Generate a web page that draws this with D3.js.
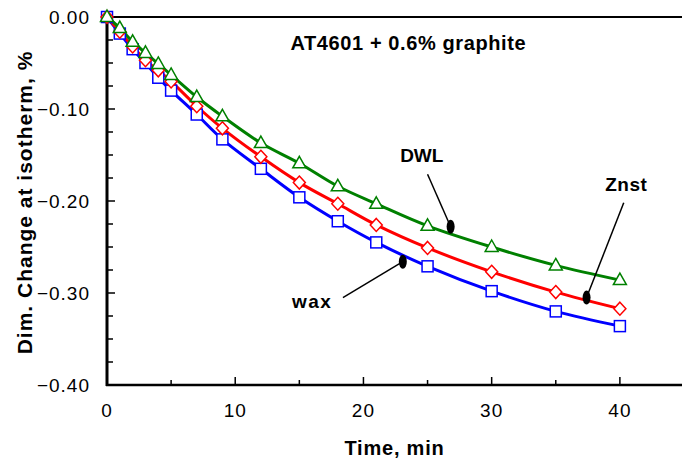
<!DOCTYPE html>
<html><head><meta charset="utf-8">
<script src="https://cdn.jsdelivr.net/npm/d3@7"></script>
<style>body{margin:0;background:#fff}svg{display:block}</style>
</head><body>
<script>
const times = [0,1,2,3,4,5,7,9,12,15,18,21,25,30,35,40];
const waxValues  = [0,-0.018,-0.035,-0.050,-0.066,-0.080,-0.106,-0.133,-0.165,-0.196,-0.222,-0.245,-0.271,-0.298,-0.320,-0.336];
const znstValues = [0,-0.016,-0.032,-0.047,-0.058,-0.070,-0.097,-0.121,-0.152,-0.180,-0.203,-0.226,-0.251,-0.277,-0.299,-0.317];
const dwlValues  = [0,-0.012,-0.027,-0.039,-0.051,-0.063,-0.087,-0.108,-0.137,-0.159,-0.184,-0.203,-0.227,-0.250,-0.270,-0.286];
const seriesNames = ["wax","Znst","DWL"];
const xTicks = [0,10,20,30,40];
const yTicks = [0,-0.1,-0.2,-0.3,-0.4];
const titleText = "AT4601 + 0.6% graphite";
const xLabel = "Time, min";
const yLabel = "Dim. Change at isotherm, %";
// annotations in data units: label position, leader start, dot position
const annotations = [
  {text:"DWL",  tx:24.55, ty:-0.1576, lx:25.0, ly:-0.171, dx:26.8, dy:-0.228, spacing:0},
  {text:"Znst", tx:40.5,  ty:-0.189,  lx:40.3, ly:-0.202, dx:37.4, dy:-0.305, spacing:0.5},
  {text:"wax",  tx:16.0,  ty:-0.316,  lx:18.4, ly:-0.305, dx:23.07,dy:-0.266, spacing:1.5}
];

const W=682,H=460;
const svg=d3.select("body").append("svg").attr("width",W).attr("height",H);
const x=d3.scaleLinear().domain([0,45]).range([107,684]);
const y=d3.scaleLinear().domain([0,-0.4]).range([17,385]);
const font="'Liberation Sans', Arial, sans-serif";

// minor ticks
const g=svg.append("g");
d3.range(5,45,10).forEach(v=>{
  g.append("line").attr("x1",x(v)).attr("x2",x(v)).attr("y1",y(-0.4)).attr("y2",y(-0.4)-5).attr("stroke","#000").attr("stroke-width",1.5);
});
xTicks.forEach(v=>{
  g.append("line").attr("x1",x(v)).attr("x2",x(v)).attr("y1",y(-0.4)).attr("y2",y(-0.4)-8).attr("stroke","#000").attr("stroke-width",1.5);
  g.append("text").attr("x",x(v)).attr("y",417).attr("text-anchor","middle")
   .attr("font-family",font).attr("font-size",19).attr("letter-spacing",1).text(d3.format("d")(v));
});
d3.range(0,16).forEach(i=>{
  const v=-i*0.025;
  const major = i%4===0;
  g.append("line").attr("x1",x(0)).attr("x2",x(0)+(major?8:6)).attr("y1",y(v)).attr("y2",y(v)).attr("stroke","#000").attr("stroke-width",1.5);
});
yTicks.forEach(v=>{
  g.append("text").attr("x",90).attr("y",y(v)+7).attr("text-anchor","end")
   .attr("font-family",font).attr("font-size",19).attr("letter-spacing",1).text(d3.format(".2f")(v));
});

// axes lines
svg.append("line").attr("x1",x(0)).attr("x2",W).attr("y1",y(0)).attr("y2",y(0)).attr("stroke","#000").attr("stroke-width",2);
svg.append("line").attr("x1",x(0)-1).attr("x2",W).attr("y1",y(-0.4)).attr("y2",y(-0.4)).attr("stroke","#000").attr("stroke-width",2.5);
svg.append("line").attr("x1",x(0)).attr("x2",x(0)).attr("y1",y(0)-1).attr("y2",y(-0.4)+1).attr("stroke","#000").attr("stroke-width",3);

// series
const series=[
  {name:seriesNames[0],vals:waxValues,color:"#0000ff",shape:"square"},
  {name:seriesNames[1],vals:znstValues,color:"#ff0000",shape:"diamond"},
  {name:seriesNames[2],vals:dwlValues,color:"#008000",shape:"triangle"}
];
const line=d3.line().x(d=>x(d[0])).y(d=>y(d[1])).curve(d3.curveCatmullRom.alpha(0.5));
series.forEach(s=>{
  const pts=times.map((t,i)=>[t,s.vals[i]]);
  svg.append("path").attr("d",line(pts)).attr("fill","none").attr("stroke",s.color).attr("stroke-width",3);
});
series.forEach(s=>{
  const pts=times.map((t,i)=>[t,s.vals[i]]);
  const mg=svg.append("g");
  pts.forEach(p=>{
    const cx=x(p[0]),cy=y(p[1]);
    let el;
    if(s.shape==="square"){
      el=mg.append("rect").attr("x",cx-5.5).attr("y",cy-5.5).attr("width",11).attr("height",11);
    } else if(s.shape==="diamond"){
      el=mg.append("path").attr("d",`M${cx},${cy-6.5}L${cx+6},${cy}L${cx},${cy+6.5}L${cx-6},${cy}Z`);
    } else {
      el=mg.append("path").attr("d",`M${cx},${cy-7}L${cx+6.5},${cy+4.5}L${cx-6.5},${cy+4.5}Z`);
    }
    el.attr("fill","#fff").attr("stroke",s.color).attr("stroke-width",1.5);
  });
});

// title
svg.append("text").attr("x",x(23.5)).attr("y",y(-0.0359)).attr("text-anchor","middle")
  .attr("font-family",font).attr("font-weight","bold").attr("font-size",20).attr("letter-spacing",0.6).text(titleText);

// annotations
annotations.forEach(a=>{
  svg.append("line").attr("x1",x(a.lx)).attr("y1",y(a.ly)).attr("x2",x(a.dx)).attr("y2",y(a.dy)).attr("stroke","#000").attr("stroke-width",1.5);
  svg.append("ellipse").attr("cx",x(a.dx)).attr("cy",y(a.dy)).attr("rx",4).attr("ry",7).attr("fill","#000");
  svg.append("text").attr("x",x(a.tx)).attr("y",y(a.ty)).attr("text-anchor","middle")
   .attr("font-family",font).attr("font-weight","bold").attr("font-size",19).attr("letter-spacing",a.spacing).text(a.text);
});

// axis labels
svg.append("text").attr("x",(x(0)+W)/2).attr("y",455).attr("text-anchor","middle")
  .attr("font-family",font).attr("font-weight","bold").attr("font-size",20).attr("letter-spacing",0.8).text(xLabel);
svg.append("text").attr("transform",`translate(32,${(48+357)/2}) rotate(-90)`).attr("text-anchor","middle")
  .attr("font-family",font).attr("font-weight","bold").attr("font-size",21).attr("letter-spacing",1).text(yLabel);
</script>
</body></html>
